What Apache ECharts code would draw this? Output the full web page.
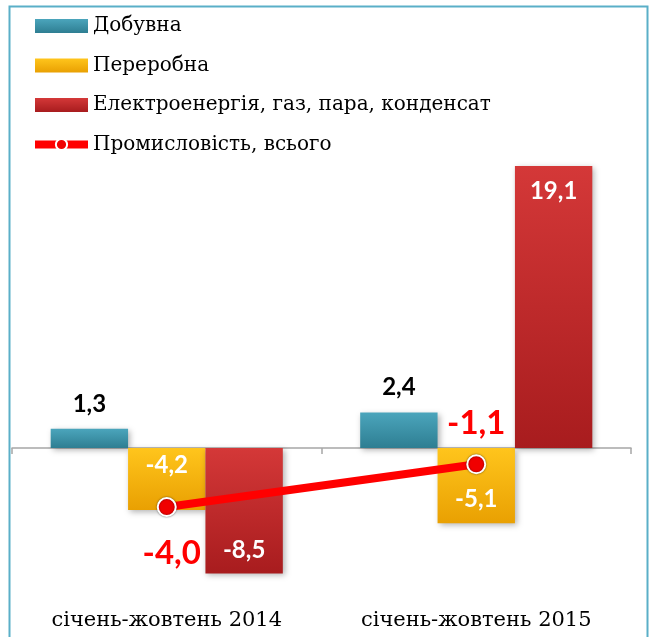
<!DOCTYPE html>
<html>
<head>
<meta charset="UTF-8">
<title>Промисловість</title>
<script src="https://cdn.jsdelivr.net/npm/echarts@6/dist/echarts.min.js"></script>
<style>
  html, body { margin: 0; padding: 0; background: #fff; }
</style>
</head>
<body>
<div id="main" style="width:649px;height:637px;"></div>
<script>
// дані
var categories = ['січень-жовтень 2014', 'січень-жовтень 2015'];
var mining = [1.3, 2.4];          // Добувна
var processing = [-4.2, -5.1];    // Переробна
var energy = [-8.5, 19.1];        // Електроенергія, газ, пара, конденсат
var industry = [-4.0, -1.1];      // Промисловість, всього

function fmt(v) { return v.toFixed(1).replace('.', ','); }

function grad(top, bottom) {
  return new echarts.graphic.LinearGradient(0, 0, 0, 1, [
    { offset: 0, color: top },
    { offset: 1, color: bottom }
  ]);
}

var labelFont = 'Lato, "Open Sans", sans-serif';
var serif = '"DejaVu Serif", serif';
var shadow = { shadowBlur: 6, shadowColor: 'rgba(0,0,0,0.3)', shadowOffsetX: 2, shadowOffsetY: 2 };

var myChart = echarts.init(document.getElementById('main'));

var option = {
  backgroundColor: '#fff',
  animation: false,
  graphic: [{
    type: 'rect',
    shape: { x: 9.5, y: 6.5, width: 638, height: 640 },
    style: { fill: 'none', stroke: '#5AAFC8', lineWidth: 2 },
    z: 0
  }],
  legend: {
    orient: 'vertical',
    left: 26,
    top: 11,
    itemWidth: 53,
    itemHeight: 14,
    itemGap: 19.5,
    textStyle: { fontFamily: serif, fontSize: 20, color: '#000', lineHeight: 20 },
    data: [
      { name: 'Добувна', icon: 'rect' },
      { name: 'Переробна', icon: 'rect' },
      { name: 'Електроенергія, газ, пара, конденсат', icon: 'rect' },
      { name: 'Промисловість, всього', lineStyle: { width: 8, color: '#FF0000' } }
    ]
  },
  grid: { left: 12, right: 18, top: 152.8, bottom: 41.4 },
  xAxis: [
    {
      type: 'category',
      data: categories,
      axisLine: { onZero: true, lineStyle: { color: '#A6A6A6', width: 1.5 } },
      axisTick: { show: true, length: 6, lineStyle: { color: '#A6A6A6', width: 1.5 } },
      axisLabel: { show: false }
    },
    {
      type: 'category',
      data: categories,
      position: 'bottom',
      axisLine: { show: false, onZero: false },
      axisTick: { show: false },
      axisLabel: { margin: 14, fontFamily: serif, fontSize: 21, color: '#000' }
    }
  ],
  yAxis: {
    type: 'value',
    min: -10,
    max: 20,
    show: false,
    splitLine: { show: false }
  },
  series: [
    {
      name: 'Добувна',
      type: 'bar',
      barGap: '0%',
      barCategoryGap: '25%',
      itemStyle: Object.assign({ color: grad('#4BA5BC', '#2E7E92') }, shadow),
      label: {
        show: true, position: 'top', distance: 13,
        fontFamily: labelFont, fontWeight: 'bold', fontSize: 24, color: '#000',
        formatter: function (p) { return fmt(p.value); }
      },
      data: mining
    },
    {
      name: 'Переробна',
      type: 'bar',
      itemStyle: Object.assign({ color: grad('#FFC51C', '#E9A002') }, shadow),
      label: {
        show: true, position: 'insideTop', distance: 5,
        fontFamily: labelFont, fontWeight: 'bold', fontSize: 24, color: '#fff',
        formatter: function (p) { return fmt(p.value); }
      },
      data: processing.map(function (v, i) {
        return i === 1 ? { value: v, label: { position: 'insideBottom', distance: 12 } } : v;
      })
    },
    {
      name: 'Електроенергія, газ, пара, конденсат',
      type: 'bar',
      itemStyle: Object.assign({ color: grad('#D43838', '#A81C1E') }, shadow),
      label: {
        show: true, position: 'insideTop', distance: 13,
        fontFamily: labelFont, fontWeight: 'bold', fontSize: 24, color: '#fff',
        formatter: function (p) { return fmt(p.value); }
      },
      data: energy.map(function (v) {
        return v < 0 ? { value: v, label: { position: 'insideBottom', distance: 11 } } : v;
      })
    },
    {
      name: 'Промисловість, всього',
      type: 'line',
      z: 5,
      symbol: 'circle',
      symbolSize: 18,
      lineStyle: { color: '#FF0000', width: 8 },
      itemStyle: { color: '#F00000', borderColor: '#fff', borderWidth: 2, shadowBlur: 2, shadowColor: 'rgba(0,0,0,0.5)' },
      label: {
        show: true,
        fontFamily: labelFont, fontWeight: 'bold', fontSize: 33, color: '#FF0000',
        formatter: function (p) { return fmt(p.value); }
      },
      data: industry.map(function (v, i) {
        return i === 0
          ? { value: v, label: { position: 'bottom', distance: 20, offset: [5, 0] } }
          : { value: v, label: { position: 'top', distance: 14 } };
      })
    }
  ]
};

myChart.setOption(option);
</script>
</body>
</html>
